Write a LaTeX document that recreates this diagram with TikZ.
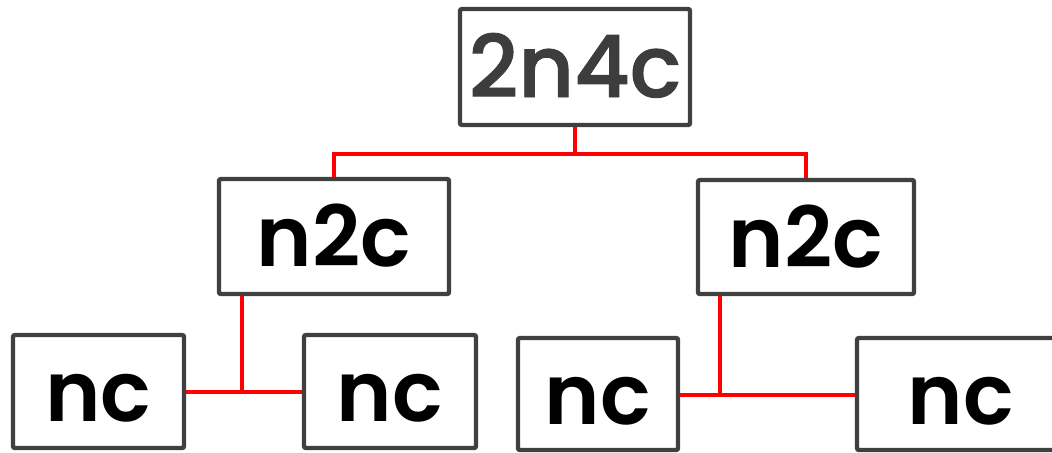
\documentclass[tikz,border=0pt]{standalone}
\usepackage{fontspec}
\setmainfont{Poppins}
\newfontfamily\popsemi{Poppins SemiBold}
\newfontfamily\popmed{Poppins Medium}[FakeBold=1]
\definecolor{boxgray}{HTML}{404040}
\definecolor{textgray}{HTML}{3D3D3D}
\tikzset{
  treebox/.style={draw=boxgray, line width=2.2pt, rounded corners=1pt, fill=white,
    inner sep=0pt, text height=30pt, text depth=0pt, font=\popsemi\fontsize{42}{50}\selectfont, text=black},
  topbox/.style={treebox, font=\popmed\fontsize{43}{50}\selectfont, text=textgray},
  link/.style={draw=red, line width=2.2pt}
}
\begin{document}
\begin{tikzpicture}[x=0.5pt, y=-0.5pt]
\useasboundingbox (0,0) rectangle (1052,452);
\node[topbox, minimum width=115pt, minimum height=58pt] (top) at (575,67) {2n4c};
\node[treebox, minimum width=115pt, minimum height=57.5pt] (nL) at (334,236.5) {n2c};
\node[treebox, minimum width=108pt, minimum height=57pt] (nR) at (806,237) {n2c};
\node[treebox, minimum width=85.5pt, minimum height=56.5pt] (c1) at (98.5,391.5) {nc};
\node[treebox, minimum width=86pt, minimum height=56.5pt] (c2) at (390,391.5) {nc};
\node[treebox, minimum width=80pt, minimum height=56pt] (c3) at (598,394) {nc};
\node[treebox, minimum width=104pt, minimum height=56pt] (c4) at (961,394) {nc};
\coordinate (j0) at (575,154);
\coordinate (jL) at (242,392);
\coordinate (jR) at (720,395);
\draw[link] (top.south) -- (j0);
\draw[link] (nL.north) |- (j0) -| (nR.north);
\draw[link] (jL |- nL.south) -- (jL);
\draw[link] (c1.east |- jL) -- (c2.west |- jL);
\draw[link] (jR |- nR.south) -- (jR);
\draw[link] (c3.east |- jR) -- (c4.west |- jR);
\end{tikzpicture}
\end{document}
